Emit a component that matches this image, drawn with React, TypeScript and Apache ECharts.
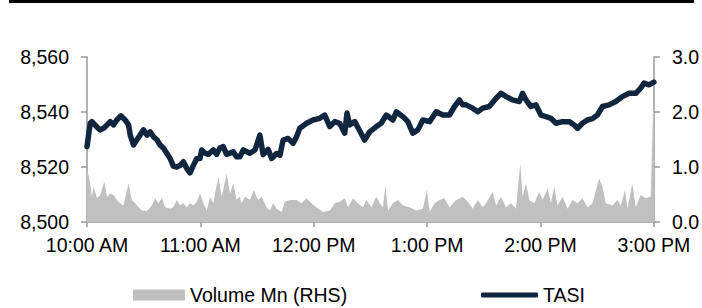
import React, { useEffect, useRef } from "react";
import * as echarts from "echarts";

const timeLabels = ["10:00 AM", "11:00 AM", "12:00 PM", "1:00 PM", "2:00 PM", "3:00 PM"];

const tasiMinutes = [
  0, 1.7, 2.6, 5.3, 7.0, 8.8, 10.6, 12.3, 14.0, 15.8, 17.9, 20.2, 22.0, 22.9, 24.6, 26.4, 28.1, 29.9,
  31.7, 33.4, 35.2, 37.0, 38.7, 40.5, 42.2, 44.0, 45.7, 47.5, 49.3, 51.0, 52.8, 54.5, 56.3, 58.1,
  59.8, 60.7, 62.5, 64.2, 66.8, 68.6, 70.4, 72.1, 73.9, 77.4, 79.2, 80.9, 82.7, 86.2, 88.9, 91.5,
  93.2, 95.9, 97.7, 100.3, 102.1, 103.8, 106.4, 109.1, 110.9, 112.6, 116.2, 119.6, 123.2, 125.8,
  128.5, 131.1, 133.7, 136.4, 137.6, 139.0, 141.7, 144.3, 146.9, 149.6, 153.1, 155.7, 158.4, 161.9,
  163.7, 167.2, 169.8, 172.4, 175.1, 177.7, 181.3, 184.8, 188.3, 191.8, 194.5, 197.1, 198.8, 200.6,
  204.1, 206.8, 209.4, 212.9, 216.5, 219.1, 221.8, 225.2, 228.8, 230.5, 232.3, 234.9, 237.6, 240.2,
  242.9, 245.5, 248.2, 251.6, 255.2, 257.8, 259.6, 262.2, 264.8, 267.5, 270.1, 272.8, 276.3, 279.8,
  283.3, 286.9, 290.4, 293.0, 294.8, 297.4, 300,
];
const tasiValues = [
  8527.4, 8535.9, 8536.5, 8534.5, 8533.5, 8534.1, 8535.3, 8536.5, 8535.3, 8537.1, 8538.6, 8537.1,
  8535.3, 8531.6, 8528.0, 8529.9, 8531.6, 8533.5, 8531.6, 8532.8, 8531.0, 8529.9, 8528.0, 8526.8,
  8525.0, 8523.1, 8520.3, 8520.0, 8520.6, 8521.9, 8519.5, 8517.9, 8520.6, 8523.1, 8523.1, 8526.2,
  8525.0, 8524.6, 8526.2, 8524.6, 8527.0, 8527.4, 8524.6, 8525.5, 8523.7, 8523.7, 8526.2, 8525.0,
  8526.2, 8531.6, 8524.5, 8526.4, 8523.1, 8524.9, 8524.3, 8529.8, 8530.4, 8528.6, 8531.0, 8534.1,
  8535.9, 8537.1, 8537.7, 8538.9, 8534.7, 8536.5, 8535.9, 8532.3, 8539.6, 8535.3, 8536.5, 8533.2,
  8529.8, 8532.8, 8534.7, 8535.9, 8538.9, 8537.1, 8540.1, 8538.3, 8536.5, 8532.3, 8533.5, 8537.1,
  8536.5, 8540.1, 8538.9, 8538.9, 8542.0, 8544.4, 8542.6, 8542.6, 8541.4, 8540.1, 8541.4, 8542.0,
  8545.0, 8546.8, 8545.6, 8544.4, 8543.8, 8546.8, 8544.4, 8542.0, 8542.6, 8538.9, 8538.3, 8537.7,
  8535.9, 8536.5, 8536.5, 8535.3, 8534.1, 8535.9, 8537.1, 8537.6, 8538.9, 8542.0, 8542.6, 8543.8,
  8545.6, 8546.8, 8546.8, 8548.7, 8550.5, 8549.9, 8550.9,
];

const volMinutes = [
  0, 1.7, 2.6, 3.5, 5.3, 7.0, 9.1, 10.6, 12.3, 14.0, 15.8, 17.6, 19.3, 22.0, 23.7, 25.5, 27.3, 29.0,
  31.7, 34.3, 36.1, 37.8, 39.6, 41.4, 44.0, 45.7, 47.5, 49.3, 51.0, 52.8, 54.5, 56.3, 58.1, 59.8,
  61.6, 63.4, 65.1, 66.8, 69.5, 71.3, 73.9, 75.7, 77.4, 79.2, 80.9, 81.8, 83.6, 86.2, 88.3, 90.6,
  92.4, 95.0, 96.8, 98.5, 100.3, 103.0, 104.7, 107.4, 110.9, 113.5, 116.2, 118.8, 121.4, 125.0,
  128.5, 131.1, 133.7, 136.4, 138.1, 140.8, 143.4, 146.0, 147.8, 150.5, 153.1, 154.9, 156.6, 157.9,
  159.3, 161.9, 164.6, 167.2, 170.7, 174.2, 177.7, 179.9, 181.3, 183.9, 186.6, 189.2, 191.8, 195.4,
  198.9, 201.5, 204.1, 206.8, 209.4, 211.2, 214.7, 216.5, 219.1, 221.7, 224.4, 227.0, 229.3, 230.5,
  232.3, 234.1, 236.7, 239.3, 241.1, 243.7, 245.5, 247.3, 249.0, 251.7, 254.3, 256.9, 259.6, 262.2,
  264.9, 267.5, 271.0, 272.8, 274.5, 278.1, 280.7, 282.5, 284.7, 286.0, 288.6, 290.4, 293.0, 295.7,
  298.3, 299.7, 300,
];
const volValues = [
  0.97, 0.7, 0.46, 0.64, 0.43, 0.49, 0.73, 0.46, 0.52, 0.49, 0.4, 0.34, 0.3, 0.7, 0.4, 0.34, 0.27,
  0.21, 0.2, 0.3, 0.43, 0.34, 0.43, 0.27, 0.24, 0.27, 0.4, 0.3, 0.34, 0.27, 0.34, 0.3, 0.37, 0.52,
  0.34, 0.21, 0.46, 0.34, 0.82, 0.46, 0.88, 0.52, 0.7, 0.4, 0.46, 0.34, 0.46, 0.4, 0.58, 0.4, 0.46,
  0.27, 0.21, 0.34, 0.24, 0.18, 0.37, 0.4, 0.4, 0.34, 0.43, 0.34, 0.27, 0.18, 0.21, 0.34, 0.37, 0.43,
  0.27, 0.43, 0.34, 0.27, 0.4, 0.27, 0.46, 0.34, 0.27, 0.67, 0.21, 0.34, 0.4, 0.3, 0.27, 0.21, 0.24,
  0.58, 0.18, 0.34, 0.4, 0.43, 0.27, 0.4, 0.46, 0.37, 0.24, 0.4, 0.27, 0.34, 0.55, 0.3, 0.46, 0.27,
  0.34, 0.24, 1.07, 0.46, 0.7, 0.4, 0.34, 0.55, 0.4, 0.61, 0.34, 0.64, 0.3, 0.46, 0.24, 0.4, 0.34,
  0.43, 0.27, 0.34, 0.79, 0.64, 0.34, 0.3, 0.4, 0.3, 0.58, 0.24, 0.7, 0.27, 0.49, 0.43, 0.46, 2.16,
  2.2,
];

const FONT = "Arial, 'Liberation Sans', sans-serif";
const AXIS_COLOR = "#999999";
const TASI_COLOR = "#10263f";
const VOL_COLOR = "#c0c0c0";

export default function App() {
  const ref = useRef<HTMLDivElement>(null);

  useEffect(() => {
    if (!ref.current) return;
    const chart = echarts.init(ref.current, undefined, { renderer: "svg" });
    const tasiData = tasiMinutes.map((m, i) => [m, tasiValues[i]]);
    const volData = volMinutes.map((m, i) => [m, volValues[i]]);
    const labelStyle = { color: "#000", fontSize: 19.5, fontFamily: FONT };
    chart.setOption({
      animation: false,
      backgroundColor: "#fff",
      graphic: [
        { type: "rect", shape: { x: 9, y: 0, width: 685, height: 3 }, style: { fill: "#000" } },
      ],
      grid: { left: 87, right: 47, top: 57, bottom: 86, containLabel: false },
      legend: [
        {
          left: 133,
          top: 285,
          padding: 0,
          itemWidth: 52,
          itemHeight: 11,
          itemGap: 5,
          textStyle: labelStyle,
          data: [{ name: "Volume Mn (RHS)", icon: "rect", itemStyle: { color: VOL_COLOR } }],
        },
        {
          left: 481,
          top: 285,
          padding: 0,
          itemWidth: 57,
          itemHeight: 5,
          textStyle: labelStyle,
          data: [{ name: "TASI", icon: "roundRect", itemStyle: { color: TASI_COLOR } }],
        },
      ],
      xAxis: {
        type: "value",
        min: 0,
        max: 300,
        interval: 60,
        axisLine: { show: true, lineStyle: { color: AXIS_COLOR, width: 1.5 } },
        axisTick: { show: true, length: 5, lineStyle: { color: AXIS_COLOR, width: 1.5 } },
        axisLabel: {
          ...labelStyle,
          margin: 13,
          showMaxLabel: true,
          showMinLabel: true,
          formatter: (v: number) => timeLabels[Math.round(v / 60)] ?? "",
        },
        splitLine: { show: false },
      },
      yAxis: [
        {
          type: "value",
          min: 8500,
          max: 8560,
          interval: 20,
          position: "left",
          axisLine: { show: true, lineStyle: { color: AXIS_COLOR, width: 1.5 } },
          axisTick: { show: true, length: 6, lineStyle: { color: AXIS_COLOR, width: 1.5 } },
          axisLabel: {
            ...labelStyle,
            margin: 18,
            formatter: (v: number) => v.toLocaleString("en-US"),
          },
          splitLine: { show: false },
        },
        {
          type: "value",
          min: 0,
          max: 3,
          interval: 1,
          position: "right",
          axisLine: { show: true, lineStyle: { color: AXIS_COLOR, width: 1.5 } },
          axisTick: { show: true, length: 6, lineStyle: { color: AXIS_COLOR, width: 1.5 } },
          axisLabel: {
            ...labelStyle,
            margin: 18,
            formatter: (v: number) => v.toFixed(1),
          },
          splitLine: { show: false },
        },
      ],
      series: [
        {
          name: "Volume Mn (RHS)",
          type: "line",
          yAxisIndex: 1,
          data: volData,
          symbol: "none",
          lineStyle: { width: 0, color: VOL_COLOR },
          itemStyle: { color: VOL_COLOR },
          areaStyle: { color: VOL_COLOR, opacity: 1 },
          z: 1,
        },
        {
          name: "TASI",
          type: "line",
          yAxisIndex: 0,
          data: tasiData,
          symbol: "none",
          lineStyle: { width: 5.5, color: TASI_COLOR, cap: "round", join: "round" },
          itemStyle: { color: TASI_COLOR },
          z: 3,
        },
      ],
    });
    return () => chart.dispose();
  }, []);

  return (
    <div
      ref={ref}
      style={{ position: "absolute", left: 0, top: 0, width: 702, height: 308 }}
    />
  );
}
